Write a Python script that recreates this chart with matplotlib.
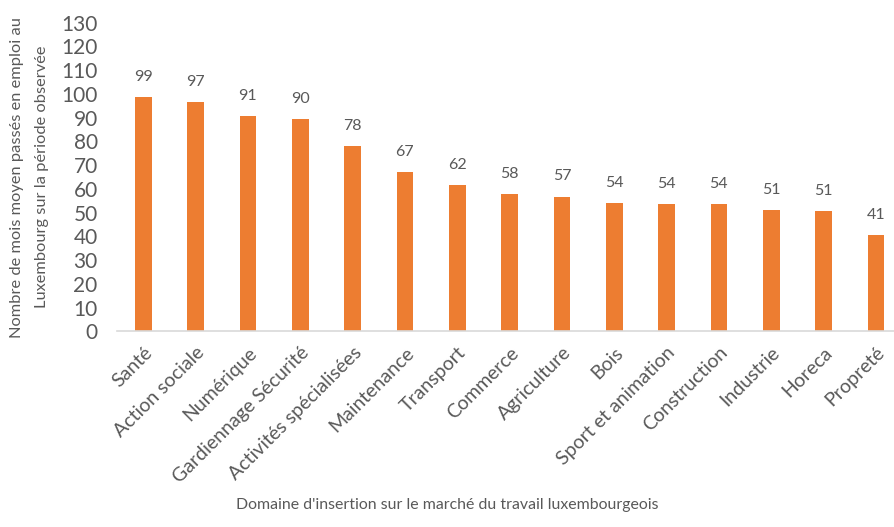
import numpy as np
import matplotlib.pyplot as plt

plt.rcParams['font.family'] = ['Lato', 'DejaVu Sans']

# données
domaines = ["Santé", "Action sociale", "Numérique", "Gardiennage Sécurité",
            "Activités spécialisées", "Maintenance", "Transport", "Commerce",
            "Agriculture", "Bois", "Sport et animation", "Construction",
            "Industrie", "Horeca", "Propreté"]
mois = [98.6, 96.6, 90.6, 89.6, 77.9, 67.2, 61.7, 57.8, 56.8, 54.1,
        53.7, 53.6, 51.0, 50.6, 40.6]
yticks = np.arange(0, 131, 10)

orange = "#ED7D31"
gris = "#595959"

fig = plt.figure(figsize=(8.94, 5.27), dpi=100)
ax = fig.add_axes([0.131, 0.371, 0.878, 0.586])

x = np.arange(len(domaines))
bars = ax.bar(x, mois, width=0.32, color=orange, zorder=2)

# étiquettes de valeur au-dessus des barres
for xi, v in zip(x, mois):
    ax.text(xi, v + 5.5, "%.0f" % v, ha='center', va='bottom', fontsize=11.5, color=gris)

ax.set_xlim(-0.5, len(domaines) - 0.5)
ax.set_ylim(0, 130)
ax.set_yticks(yticks)
ax.set_yticklabels([str(t) for t in yticks], fontsize=15, color=gris)
ax.set_xticks(x)
ax.set_xticklabels(domaines, rotation=45, ha='right', rotation_mode='anchor',
                   fontsize=14, color=gris)
ax.tick_params(axis='y', length=0, pad=14)
ax.tick_params(axis='x', length=0, pad=9)

for s in ['top', 'right', 'left']:
    ax.spines[s].set_visible(False)
ax.spines['bottom'].set_color('#D9D9D9')
ax.spines['bottom'].set_linewidth(1.2)

fig.text(30 / 894, 0.664,
         "Nombre de mois moyen passés en emploi au\nLuxembourg sur la période observée",
         rotation=90, ha='center', va='center', fontsize=11.8, color=gris,
         linespacing=2.0, multialignment='center')
fig.text(0.5, 0.042, "Domaine d'insertion sur le marché du travail luxembourgeois",
         ha='center', va='center', fontsize=11.4, color=gris)

fig.savefig("out.png", dpi=100)
